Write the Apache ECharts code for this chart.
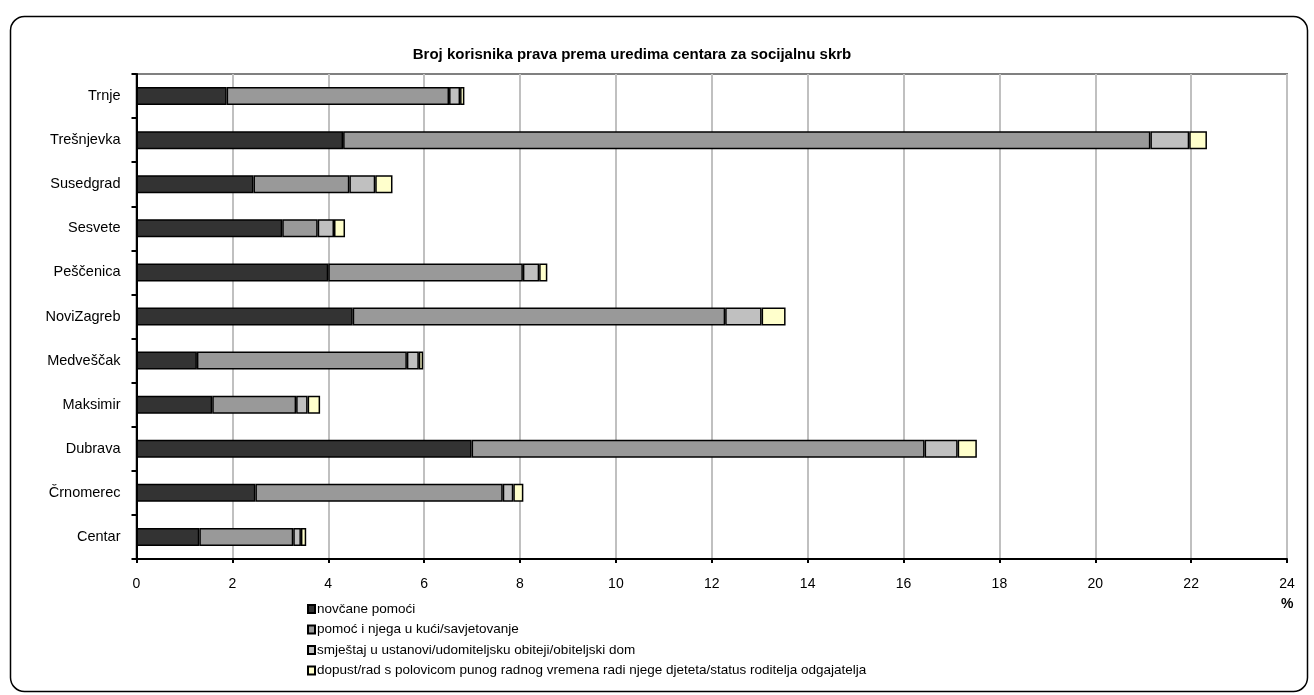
<!DOCTYPE html>
<html>
<head>
<meta charset="utf-8">
<script src="https://cdn.jsdelivr.net/npm/echarts@6/dist/echarts.min.js"></script>
<style>
html,body{margin:0;padding:0;background:#fff;}
#chart{width:1314px;height:695px;}
</style>
</head>
<body>
<div id="chart"></div>
<script>
const categories = ['Trnje','Trešnjevka','Susedgrad','Sesvete','Peščenica','NoviZagreb','Medveščak','Maksimir','Dubrava','Črnomerec','Centar'];
const seriesNames = [
  'novčane pomoći',
  'pomoć i njega u kući/savjetovanje',
  'smještaj u ustanovi/udomiteljsku obiteji/obiteljski dom',
  'dopust/rad s polovicom punog radnog vremena radi njege djeteta/status roditelja odgajatelja'
];
const novcane   = [1.88, 4.31, 2.44, 3.04, 4.00, 4.51, 1.26, 1.58, 6.99, 2.48, 1.31];
const pomoc     = [4.64, 16.84, 2.00, 0.74, 4.06, 7.77, 4.38, 1.75, 9.45, 5.16, 1.96];
const smjestaj  = [0.23, 0.81, 0.54, 0.34, 0.34, 0.76, 0.25, 0.24, 0.69, 0.22, 0.16];
const dopust    = [0.09, 0.37, 0.36, 0.23, 0.17, 0.50, 0.09, 0.26, 0.40, 0.21, 0.11];
const xTicks = [0,2,4,6,8,10,12,14,16,18,20,22,24];
const colors = ['#333333','#999999','#c0c0c0','#ffffcc'];

const dataSets = [novcane, pomoc, smjestaj, dopust];
const chart = echarts.init(document.getElementById('chart'));
const font = 'Arial, "Liberation Sans", sans-serif';
chart.setOption({
  animation: false,
  textStyle: {fontFamily: font},
  title: {
    text: 'Broj korisnika prava prema uredima centara za socijalnu skrb',
    left: 627, top: 42, textAlign: 'center',
    textStyle: {fontSize: 15, fontWeight: 'bold', color: '#000', fontFamily: font}
  },
  graphic: [{
    type: 'rect', left: 8, top: 14, shape: {x: 0, y: 0, width: 1297, height: 675, r: 14},
    style: {fill: 'none', stroke: '#000', lineWidth: 1.5}, silent: true
  }, {
    type: 'text', left: 1281, top: 597,
    style: {text: '%', font: 'bold 14px Arial, "Liberation Sans", sans-serif', fill: '#000'}
  }],
  legend: {
    orient: 'vertical', left: 302, top: 597,
    itemWidth: 7, itemHeight: 8, itemGap: 6.5,
    icon: 'rect',
    textStyle: {fontSize: 13.5, color: '#000', fontFamily: font, padding: [0,0,0,-3]},
    data: seriesNames
  },
  grid: {
    left: 136.5, right: 1314 - 1287, top: 74, bottom: 695 - 559,
    show: true, borderColor: '#808080', borderWidth: 2, containLabel: false
  },
  xAxis: {
    type: 'value', min: 0, max: 24, interval: 2,
    axisLine: {show: true, lineStyle: {color: '#000', width: 2}},
    axisTick: {show: true, length: 4, lineStyle: {color: '#000', width: 2}},
    axisLabel: {fontSize: 14, color: '#000', margin: 18, fontFamily: font,
      formatter: v => xTicks.includes(v) ? String(v) : ''},
    splitLine: {show: true, lineStyle: {color: '#c0c0c0', width: 2}}
  },
  yAxis: {
    type: 'category', data: categories, inverse: true,
    axisLine: {show: true, lineStyle: {color: '#000', width: 2}},
    axisTick: {show: true, length: 5, lineStyle: {color: '#000', width: 2}},
    axisLabel: {fontSize: 14.5, color: '#000', margin: 16, fontFamily: font}
  },
  series: dataSets.map((d, i) => ({
    name: seriesNames[i], type: 'bar', stack: 'total', data: d,
    barWidth: 18,
    itemStyle: {color: colors[i], borderColor: '#000', borderWidth: 1.5},
    emphasis: {disabled: true}
  }))
});
</script>
</body>
</html>
